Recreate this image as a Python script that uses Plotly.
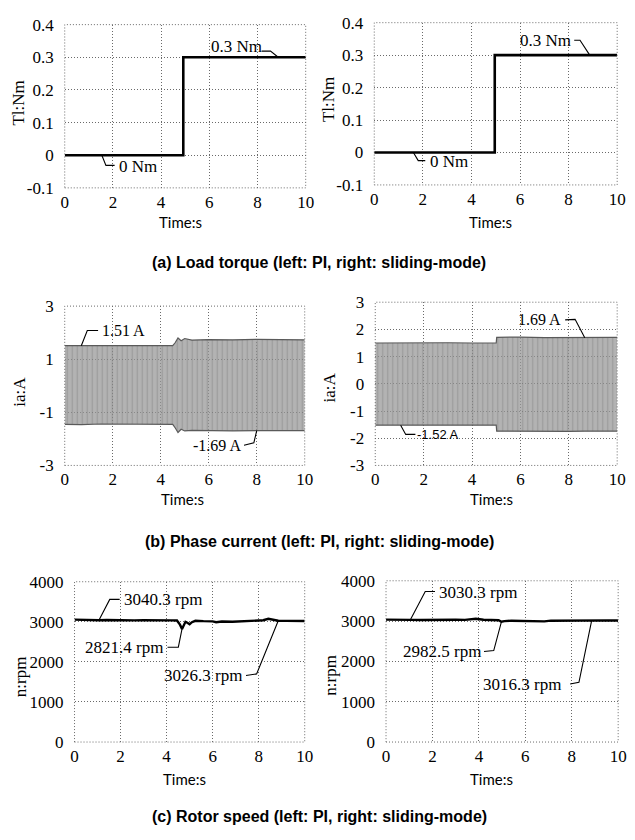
import plotly.graph_objects as go

W, H = 635, 840

# ---------------- data ----------------
# (a) load torque step
torque_time_pi = [0.0, 4.92, 4.92, 10.0]
torque_pi = [0.0, 0.0, 0.3, 0.3]
torque_time_smc = [0.0, 4.96, 4.96, 10.0]
torque_smc = [0.0, 0.0, 0.3, 0.3]

# (b) phase current envelope (upper / lower peaks)
cur_time_pi = [0.0, 0.69, 1.5, 2.5, 3.5, 4.5, 4.6, 4.72, 4.85, 5.0, 5.3, 6.0, 7.0, 8.0, 9.0, 10.0]
cur_upper_pi = [1.51, 1.51, 1.50, 1.52, 1.50, 1.51, 1.62, 1.80, 1.70, 1.78, 1.72, 1.74, 1.73, 1.75, 1.74, 1.73]
cur_lower_pi = [-1.45, -1.46, -1.44, -1.45, -1.46, -1.45, -1.58, -1.76, -1.64, -1.70, -1.68, -1.69, -1.70, -1.69, -1.68, -1.69]

cur_time_smc = [0.0, 1.05, 2.0, 3.0, 4.0, 5.0, 5.02, 6.0, 7.0, 8.0, 8.66, 9.3, 10.0]
cur_upper_smc = [1.50, 1.51, 1.50, 1.51, 1.50, 1.50, 1.71, 1.72, 1.70, 1.71, 1.69, 1.72, 1.71]
cur_lower_smc = [-1.52, -1.52, -1.51, -1.52, -1.51, -1.52, -1.74, -1.75, -1.74, -1.75, -1.74, -1.75, -1.74]

# (c) rotor speed
spd_time_pi = [0.0, 0.4, 0.8, 1.06, 1.4, 1.8, 2.2, 2.6, 3.0, 3.4, 3.8, 4.2, 4.45, 4.58, 4.67,
               4.75, 4.82, 4.9, 5.0, 5.1, 5.25, 5.6, 6.0, 6.15, 6.4, 6.86, 7.3, 7.8, 8.2,
               8.42, 8.6, 8.85, 9.2, 9.6, 10.0]
spd_pi = [3056, 3044, 3050, 3040.3, 3046, 3038, 3044, 3036, 3042, 3034, 3040, 3036, 3034, 2930, 2821.4,
          2930, 3000, 2975, 2940, 2990, 3025, 3016, 3012, 2990, 3006, 3000, 3015, 3022, 3040,
          3075, 3050, 3026.3, 3024, 3020, 3022]

spd_time_smc = [0.0, 0.4, 0.8, 1.05, 1.5, 2.0, 2.5, 3.0, 3.4, 3.87, 4.2, 4.6, 4.85, 4.97, 5.1,
                5.4, 5.8, 6.2, 6.5, 6.82, 7.1, 7.5, 8.0, 8.4, 8.86, 9.2, 9.6, 10.0]
spd_smc = [3036, 3028, 3034, 3030.3, 3026, 3033, 3028, 3035, 3030, 3058, 3032, 3034, 3020, 2982.5, 3000,
           3008, 3004, 3012, 3006, 2992, 3010, 3014, 3018, 3020, 3016.3, 3022, 3018, 3014]

# tick labels
time_ticks = [0, 2, 4, 6, 8, 10]
time_ticktext = ["0", "2", "4", "6", "8", "10"]
torque_ticks = [-0.1, 0, 0.1, 0.2, 0.3, 0.4]
torque_ticktext = ["-0.1", "0", "0.1", "0.2", "0.3", "0.4"]
cur_ticks_pi = [-3, -1, 1, 3]
cur_ticktext_pi = ["-3", "-1", "1", "3"]
cur_ticks_smc = [-3, -2, -1, 0, 1, 2, 3]
cur_ticktext_smc = ["-3", "-2", "-1", "0", "1", "2", "3"]
spd_ticks = [0, 1000, 2000, 3000, 4000]
spd_ticktext = ["0", "1000", "2000", "3000", "4000"]

captions = ["(a) Load torque (left: PI, right: sliding-mode)",
            "(b) Phase current (left: PI, right: sliding-mode)",
            "(c) Rotor speed (left: PI, right: sliding-mode)"]

# ---------------- layout helpers ----------------
SERIF = "Liberation Serif"
SANS = "Liberation Sans"


def xdom(left, right):
    return [left / W, right / W]


def ydom(top, bottom):
    return [1 - bottom / H, 1 - top / H]


panels = [
    dict(x=xdom(62, 308), y=ydom(16, 183), yr=[-0.1, 0.4], yt=torque_ticks, ytt=torque_ticktext),
    dict(x=xdom(378, 626), y=ydom(14, 180), yr=[-0.1, 0.4], yt=torque_ticks, ytt=torque_ticktext),
    dict(x=xdom(62, 307), y=ydom(304, 467), yr=[-3, 3], yt=cur_ticks_pi, ytt=cur_ticktext_pi),
    dict(x=xdom(379, 626), y=ydom(300, 467), yr=[-3, 3], yt=cur_ticks_smc, ytt=cur_ticktext_smc),
    dict(x=xdom(72, 307), y=ydom(586, 750), yr=[0, 4000], yt=spd_ticks, ytt=spd_ticktext),
    dict(x=xdom(390, 627), y=ydom(585, 750), yr=[0, 4000], yt=spd_ticks, ytt=spd_ticktext),
]

fig = go.Figure()
GRID = "#6a6a6a"
DOT = "1px,2px"
layout = {}
shapes = []
for i, p in enumerate(panels, start=1):
    sfx = "" if i == 1 else str(i)
    layout["xaxis" + sfx] = dict(
        domain=p["x"], anchor="y" + sfx, range=[0, 10], tickvals=time_ticks, ticktext=time_ticktext,
        showgrid=True, gridcolor=GRID, griddash=DOT, gridwidth=1, zeroline=False, showline=False,
        ticks="", ticklabelstandoff=2, tickfont=dict(family=SERIF, size=17, color="black"),
        fixedrange=True)
    layout["yaxis" + sfx] = dict(
        domain=p["y"], anchor="x" + sfx, range=p["yr"], tickvals=p["yt"], ticktext=p["ytt"],
        showgrid=True, gridcolor=GRID, griddash=DOT, gridwidth=1, zeroline=False, showline=False,
        ticks="", ticklabelstandoff=10, tickfont=dict(family=SERIF, size=17, color="black"),
        fixedrange=True)
    # dotted plot frame
    shapes.append(dict(type="rect", xref="x" + sfx + " domain" if sfx else "x domain",
                       yref="y" + sfx + " domain" if sfx else "y domain",
                       x0=0, x1=1, y0=0, y1=1, line=dict(color=GRID, width=1, dash=DOT),
                       layer="above"))

# (a) torque traces
fig.add_trace(go.Scatter(x=torque_time_pi, y=torque_pi, mode="lines",
                         line=dict(color="black", width=2.6), xaxis="x", yaxis="y"))
fig.add_trace(go.Scatter(x=torque_time_smc, y=torque_smc, mode="lines",
                         line=dict(color="black", width=2.6), xaxis="x2", yaxis="y2"))

# (b) phase current bands
band_pattern = dict(shape="|", bgcolor="rgba(150,150,150,0.72)", fgcolor="rgba(95,95,95,0.55)",
                    size=5, solidity=0.25)
for t, lo, hi, xa, ya in [(cur_time_pi, cur_lower_pi, cur_upper_pi, "x3", "y3"),
                          (cur_time_smc, cur_lower_smc, cur_upper_smc, "x4", "y4")]:
    fig.add_trace(go.Scatter(x=t, y=lo, mode="lines", line=dict(color="#5a5a5a", width=1.2),
                             xaxis=xa, yaxis=ya))
    fig.add_trace(go.Scatter(x=t, y=hi, mode="lines", line=dict(color="#5a5a5a", width=1.2),
                             fill="tonexty", fillcolor="rgba(150,150,150,0.72)",
                             fillpattern=band_pattern, xaxis=xa, yaxis=ya))

# (c) speed traces
fig.add_trace(go.Scatter(x=spd_time_pi, y=spd_pi, mode="lines",
                         line=dict(color="black", width=2.4), xaxis="x5", yaxis="y5"))
fig.add_trace(go.Scatter(x=spd_time_smc, y=spd_smc, mode="lines",
                         line=dict(color="black", width=2.4), xaxis="x6", yaxis="y6"))

# value callouts: (axis index, label, text position, leader polyline, font family, size)
callouts = [
    (1, f"{torque_pi[-1]:.1f} Nm", (7.11, 0.334), [(8.17, 0.319), (8.54, 0.319), (8.86, torque_pi[-1])], SERIF, 17),
    (1, f"{torque_pi[0]:.0f} Nm", (3.05, -0.034), [(1.54, torque_pi[0]), (1.71, -0.031), (2.07, -0.031)], SERIF, 17),
    (2, f"{torque_smc[-1]:.1f} Nm", (7.06, 0.346), [(8.23, 0.346), (8.47, 0.346), (8.87, torque_smc[-1])], SERIF, 17),
    (2, f"{torque_smc[0]:.0f} Nm", (3.06, -0.028), [(1.61, torque_smc[0]), (1.81, -0.025), (2.10, -0.025)], SERIF, 17),
    (3, f"{cur_upper_pi[1]:.2f} A", (2.45, 2.08), [(0.69, cur_upper_pi[1]), (0.94, 2.08), (1.39, 2.08)], SERIF, 16),
    (3, f"{cur_lower_pi[13]:.2f} A", (6.33, -2.24), [(7.47, -2.24), (7.88, -2.15), (8.0, cur_lower_pi[13])], SERIF, 16),
    (4, f"{cur_upper_smc[10]:.2f} A", (6.80, 2.35), [(7.85, 2.35), (8.26, 2.37), (8.66, cur_upper_smc[10])], SERIF, 16),
    (4, f"{cur_lower_smc[1]:.2f} A", (2.59, -1.86), [(1.05, cur_lower_smc[1]), (1.26, -1.86), (1.66, -1.86)], SANS, 13),
    (5, f"{spd_pi[3]:.1f} rpm", (3.83, 3560), [(1.06, spd_pi[3]), (1.53, 3560), (1.96, 3560)], SERIF, 17),
    (5, f"{spd_pi[14]:.1f} rpm", (2.17, 2366), [(4.04, 2366), (4.51, 2366), (4.67, spd_pi[14])], SERIF, 17),
    (5, f"{spd_pi[31]:.1f} rpm", (5.57, 1659), [(7.45, 1659), (7.91, 1700), (8.85, spd_pi[31])], SERIF, 17),
    (6, f"{spd_smc[3]:.1f} rpm", (3.97, 3707), [(1.05, spd_smc[3]), (1.69, 3732), (2.11, 3732)], SERIF, 17),
    (6, f"{spd_smc[13]:.1f} rpm", (2.41, 2244), [(4.22, 2244), (4.64, 2270), (4.97, spd_smc[13])], SERIF, 17),
    (6, f"{spd_smc[24]:.1f} rpm", (5.86, 1439), [(7.93, 1439), (8.31, 1480), (8.86, spd_smc[24])], SERIF, 17),
]

annotations = []
for idx, text, (tx, ty), pts, fam, fs in callouts:
    sfx = "" if idx == 1 else str(idx)
    path = "M " + " L ".join(f"{x},{y}" for x, y in pts)
    shapes.append(dict(type="path", path=path, xref="x" + sfx, yref="y" + sfx,
                       line=dict(color="black", width=1.1)))
    annotations.append(dict(x=tx, y=ty, xref="x" + sfx, yref="y" + sfx, text=text, showarrow=False,
                            font=dict(family=fam, size=fs, color="black")))


def paper_text(px, py, text, fam, size, bold=False, angle=0):
    annotations.append(dict(x=px / W, y=1 - py / H, xref="paper", yref="paper",
                            text=f"<b>{text}</b>" if bold else text, showarrow=False,
                            textangle=angle, xanchor="center", yanchor="middle",
                            font=dict(family=fam, size=size, color="black")))


# axis titles
for px, py in [(180, 218), (497, 218), (182, 501), (498, 501), (184, 788), (498, 788)]:
    paper_text(px, py, "Time:s", "Lato", 15)
for px, py, t in [(15, 96, "Tl:Nm"), (332, 93, "Tl:Nm"), (15, 392, "ia:A"), (332, 387, "ia:A"),
                  (17, 683, "n:rpm"), (333, 682, "n:rpm")]:
    paper_text(px, py, t, SERIF, 17, angle=-90)

# captions
for py, cap in zip([259, 545, 826], captions):
    paper_text(322, py, cap, SANS, 16, bold=True)

fig.update_layout(
    width=W, height=H, margin=dict(l=0, r=0, t=0, b=0),
    paper_bgcolor="white", plot_bgcolor="white", showlegend=False,
    shapes=shapes, annotations=annotations, **layout)

fig.write_html("out.html", config=dict(displayModeBar=False))
